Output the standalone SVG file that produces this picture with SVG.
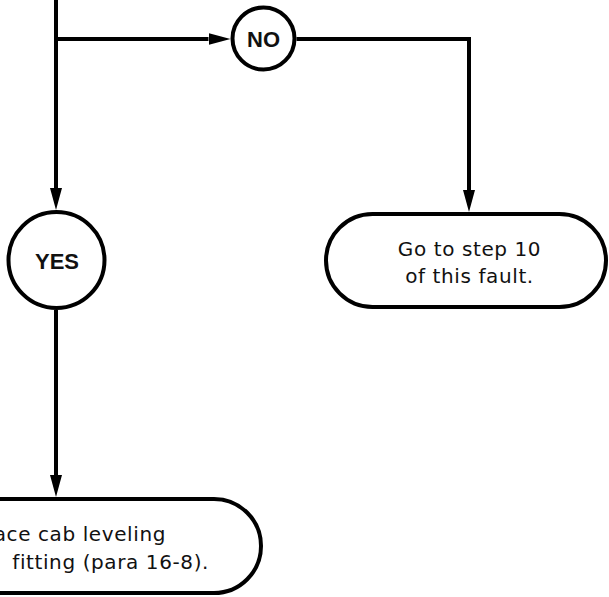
<svg xmlns="http://www.w3.org/2000/svg" width="609" height="597" viewBox="0 0 609 597">
  <style>
    .line { fill: none; stroke: #000; stroke-width: 4; }
    .node { fill: #fff; stroke: #000; stroke-width: 4; }
    .label { font-family: "Liberation Sans", Arial, sans-serif; font-weight: bold; font-size: 22px; fill: #111; text-anchor: middle; }
    .body { font-family: "DejaVu Sans", Verdana, sans-serif; font-size: 20px; fill: #111; letter-spacing: 0.6px; }
  </style>
  <defs>
    <marker id="arrow" markerUnits="userSpaceOnUse" markerWidth="22" markerHeight="12" refX="0" refY="6" orient="auto">
      <path d="M0,0 L22,6 L0,12 z" fill="#000"/>
    </marker>
  </defs>

  <!-- connectors -->
  <g id="connectors">
    <path class="line" d="M56,0 V188" marker-end="url(#arrow)"/>
    <path class="line" d="M56,39 H208.5" marker-end="url(#arrow)"/>
    <path class="line" d="M296.5,39 H469 V190" marker-end="url(#arrow)"/>
    <path class="line" d="M56,310 V475" marker-end="url(#arrow)"/>
  </g>

  <!-- decision: NO -->
  <g id="node-no">
    <circle class="node" cx="263.5" cy="38.5" r="31"/>
    <text class="label" x="263.5" y="47">NO</text>
  </g>

  <!-- decision: YES -->
  <g id="node-yes">
    <circle class="node" cx="56.5" cy="260" r="48"/>
    <text class="label" x="57" y="268.5">YES</text>
  </g>

  <!-- terminal: go to step 10 -->
  <g id="node-goto">
    <rect class="node" x="326" y="214" width="280" height="93" rx="46.5" ry="46.5"/>
    <text class="body" x="469.5" y="256" text-anchor="middle">Go to step 10</text>
    <text class="body" x="469.5" y="283" text-anchor="middle">of this fault.</text>
  </g>

  <!-- terminal: replace fitting -->
  <g id="node-replace">
    <rect class="node" x="-100" y="499" width="361" height="94" rx="47" ry="47"/>
    <text class="body" x="166" y="541" text-anchor="end">ace cab leveling</text>
    <text class="body" x="209" y="569" text-anchor="end">fitting (para 16-8).</text>
  </g>
</svg>
